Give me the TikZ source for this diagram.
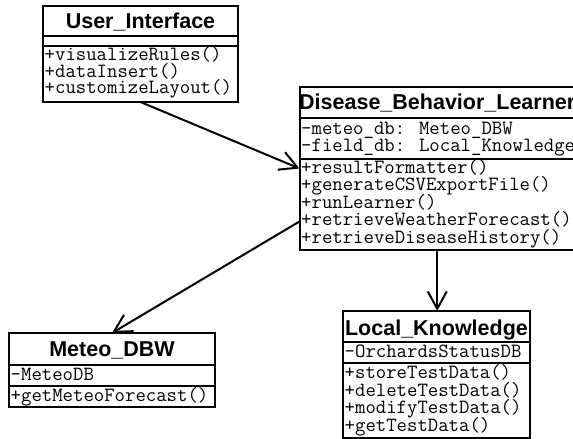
\documentclass[tikz,border=0pt]{standalone}
\usepackage{fontspec}
\setmainfont{Liberation Sans}
\usetikzlibrary{arrows.meta,calc}

\tikzset{
  classbox/.style={draw, line width=2pt, rectangle, inner sep=0pt, outer sep=0pt, anchor=north west},
  sepline/.style={line width=2pt},
  classtitle/.style={anchor=base, inner sep=0pt, font=\fontsize{21.5}{21.5}\selectfont\bfseries},
  member/.style={anchor=base west, inner sep=0pt, text height=11pt, text depth=3pt,
                 font=\fontsize{20.2}{20.2}\selectfont\ttfamily},
  assoc/.style={line width=2pt, -{Straight Barb[length=17.5pt, width=19pt, line width=2pt]}},
}

\begin{document}
\begin{tikzpicture}[x=1pt, y=-1pt]
  \useasboundingbox (0,0) rectangle (573,439);
  \fill[white] (0,0) rectangle (573,439);

  % ---------- User_Interface ----------
  \node[classbox, minimum width=195pt, minimum height=96pt] (ui) at (43,6) {};
  \draw[sepline] (43,36) -- (238,36);
  \draw[sepline] (43,46) -- (238,46);
  \node[classtitle] (ui-name) at (140.5,28) {User\_Interface};
  \node[member] (ui-m1) at (44.5,60.5) {+visualizeRules()};
  \node[member] (ui-m2) at (44.5,77) {+dataInsert()};
  \node[member] (ui-m3) at (44.5,93.5) {+customizeLayout()};

  % ---------- Disease_Behavior_Learner ----------
  \node[classbox, minimum width=275.5pt, minimum height=163pt] (dbl) at (299.5,87) {};
  \draw[sepline] (299.5,118) -- (575,118);
  \draw[sepline] (299.5,159) -- (575,159);
  \node[classtitle] (dbl-name) at (437.25,109.5) {Disease\_Behavior\_Learner};
  \node[member] (dbl-a1) at (301,134) {-meteo\_db: Meteo\_DBW};
  \node[member] (dbl-a2) at (301,151.5) {-field\_db: Local\_Knowledge};
  \node[member] (dbl-m1) at (301,173) {+resultFormatter()};
  \node[member] (dbl-m2) at (301,190.5) {+generateCSVExportFile()};
  \node[member] (dbl-m3) at (301,208) {+runLearner()};
  \node[member] (dbl-m4) at (301,225.5) {+retrieveWeatherForecast()};
  \node[member] (dbl-m5) at (301,243) {+retrieveDiseaseHistory()};

  % ---------- Meteo_DBW ----------
  \node[classbox, minimum width=206pt, minimum height=74pt] (meteo) at (9,333) {};
  \draw[sepline] (9,365) -- (215,365);
  \draw[sepline] (9,386) -- (215,386);
  \node[classtitle] (meteo-name) at (112,356) {Meteo\_DBW};
  \node[member] (meteo-a1) at (10.5,380) {-MeteoDB};
  \node[member] (meteo-m1) at (10.5,401) {+getMeteoForecast()};

  % ---------- Local_Knowledge ----------
  \node[classbox, minimum width=187pt, minimum height=127pt] (lk) at (343,311) {};
  \draw[sepline] (343,342) -- (530,342);
  \draw[sepline] (343,363) -- (530,363);
  \node[classtitle] (lk-name) at (436.5,335.5) {Local\_Knowledge};
  \node[member] (lk-a1) at (344.5,357.5) {-OrchardsStatusDB};
  \node[member] (lk-m1) at (344.5,378.5) {+storeTestData()};
  \node[member] (lk-m2) at (344.5,396) {+deleteTestData()};
  \node[member] (lk-m3) at (344.5,413.5) {+modifyTestData()};
  \node[member] (lk-m4) at (344.5,431) {+getTestData()};

  % ---------- associations ----------
  \coordinate (dbl-out) at ($(dbl.west)!0.65!(dbl.south west)$);
  \draw[assoc] (ui.south) -- (dbl.west);
  \draw[assoc] (dbl-out) -- (meteo.north);
  \draw[assoc] (dbl.south) -- (dbl.south |- lk.north);
\end{tikzpicture}
\end{document}
